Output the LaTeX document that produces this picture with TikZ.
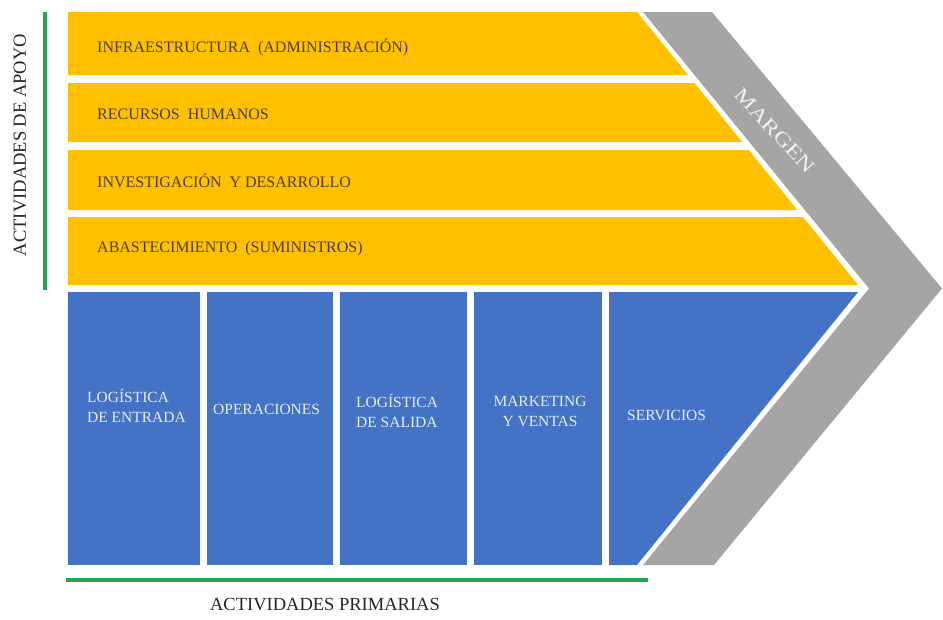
\documentclass[tikz,border=0pt]{standalone}
\usepackage{fontspec}
\setmainfont{Liberation Serif}
\newfontfamily\wideserif{Liberation Serif}[FakeStretch=1.25]
\definecolor{supyellow}{HTML}{FFC000}
\definecolor{primblue}{HTML}{4472C4}
\definecolor{margray}{HTML}{A5A5A5}
\definecolor{bargreen}{RGB}{35,166,80}
\definecolor{supink}{HTML}{4F4024}
\definecolor{primink}{HTML}{E6ECF8}
\begin{document}
\begin{tikzpicture}[x=1pt,y=-1pt,
  band/.style={fill=supyellow},
  prim/.style={fill=primblue},
  bandtext/.style={anchor=base west,inner sep=0pt,text=supink,font=\fontsize{16}{19}\selectfont},
  primtext/.style={inner sep=0pt,text=primink,font=\fontsize{15.5}{20}\selectfont},
  sidelabel/.style={inner sep=0pt,text=black!85,font=\fontsize{18.5}{20}\selectfont},
  greenbar/.style={draw=bargreen,line width=4pt}]
\useasboundingbox (0,0) rectangle (943,619);

% margin chevron
\fill[margray] (643,12) -- (712,12) -- (942,288.5) -- (714,565) -- (643,565) -- (869,288.5) -- cycle;

% support activities
\fill[band] (68,12)  -- (637,12)    -- (688,75)    -- (68,75)  -- cycle;
\fill[band] (68,83)  -- (694.5,83)  -- (742.3,142) -- (68,142) -- cycle;
\fill[band] (68,150) -- (748.8,150) -- (797.4,210) -- (68,210) -- cycle;
\fill[band] (68,217) -- (803,217)   -- (858.1,285) -- (68,285) -- cycle;

% primary activities
\fill[prim] (68,292)  rectangle (200,565);
\fill[prim] (207,292) rectangle (333,565);
\fill[prim] (340,292) rectangle (467,565);
\fill[prim] (474,292) rectangle (602,565);
\fill[prim] (609,292) -- (858.1,292) -- (637,565) -- (609,565) -- cycle;

% labels of the support activities
\node[bandtext] (infra) at (97,52)  {INFRAESTRUCTURA\ \ (ADMINISTRACIÓN)};
\node[bandtext] (rrhh)  at (97,119) {RECURSOS\ \ HUMANOS};
\node[bandtext] (idi)   at (97,187) {INVESTIGACIÓN\ \ Y DESARROLLO};
\node[bandtext] (abast) at (97,252) {ABASTECIMIENTO\ \ (SUMINISTROS)};

% labels of the primary activities
\node[primtext,anchor=west,align=left]  (logent) at (87,406)  {LOGÍSTICA\\DE ENTRADA};
\node[primtext,anchor=west]             (oper)   at (213,409) {OPERACIONES};
\node[primtext,anchor=west,align=left]  (logsal) at (356,411) {LOGÍSTICA\\DE SALIDA};
\node[primtext,align=center]            (mkt)    at (540,411) {MARKETING\\Y VENTAS};
\node[primtext,anchor=west]             (serv)   at (627,415) {SERVICIOS};

\node[inner sep=0pt,text=white!94!black,rotate=-47,font=\wideserif\fontsize{20}{22}\selectfont] (margen) at (775,131) {MARGEN};

% group brackets
\coordinate (apoyoTop) at (45,12);
\coordinate (apoyoBot) at (45,290);
\coordinate (primL) at (66,580);
\coordinate (primR) at (648,580);
\draw[greenbar] (apoyoTop) -- (apoyoBot);
\draw[greenbar] (primL) -- (primR);

\node[sidelabel,rotate=90] (apoyo) at (20,145) {ACTIVIDADES DE APOYO};
\node[sidelabel] (primarias) at (325,605) {ACTIVIDADES PRIMARIAS};
\end{tikzpicture}
\end{document}
